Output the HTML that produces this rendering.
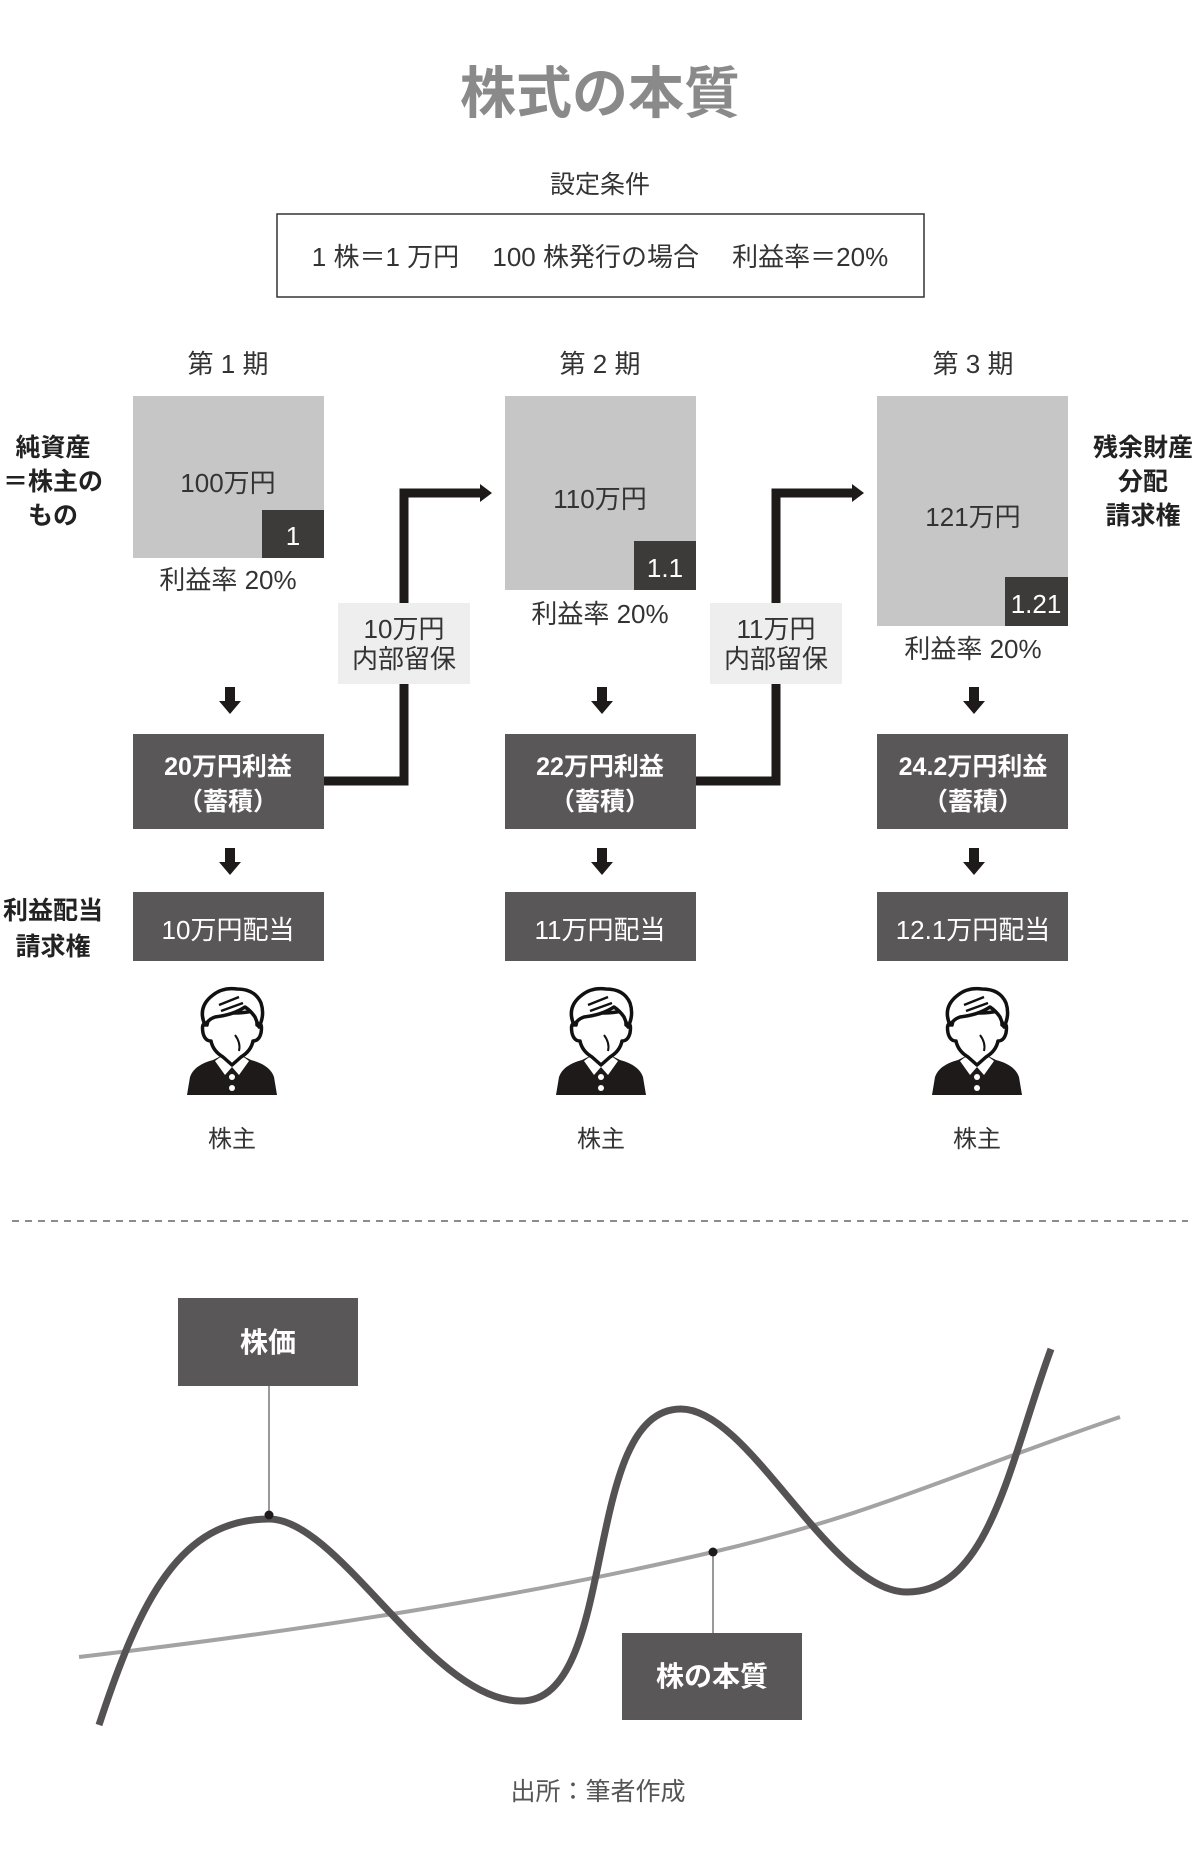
<!DOCTYPE html>
<html><head><meta charset="utf-8"><style>
html,body{margin:0;padding:0;background:#fff}
svg{display:block}
text{font-family:"Liberation Sans","Noto Sans CJK JP",sans-serif}
</style></head><body>
<svg width="1200" height="1876" viewBox="0 0 1200 1876" xmlns="http://www.w3.org/2000/svg">
<defs>
<g id="person">
  <path d="M2,110 L5,92 Q9,80 28,75 L38,70 L47,82 L56,70 L66,75 Q85,80 89,92 L92,110 Z" fill="#1e1a1a"/>
  <path d="M30,76 L38,70 L47,82 L40,90 Z" fill="#fff"/>
  <path d="M64,76 L56,70 L47,82 L54,90 Z" fill="#fff"/>
  <circle cx="47" cy="92" r="3" fill="#fff"/><circle cx="47" cy="103" r="3" fill="#fff"/>
  <path d="M22,40 Q16,36 18,48 Q20,56 26,56 Q28,66 38,72 L47,80 L56,72 Q66,66 68,56 Q74,56 76,48 Q78,36 72,40 Q72,30 68,26 Q50,30 30,26 Q24,30 22,40 Z" fill="#fff" stroke="#111" stroke-width="3.5" stroke-linejoin="round"/>
  <path d="M20,40 Q12,22 28,10 Q38,2 52,4 Q70,4 76,18 Q80,30 74,42 L70,32 Q66,26 60,22 Q48,30 30,32 Q24,34 20,40 Z" fill="#fff" stroke="#111" stroke-width="3.5" stroke-linejoin="round"/>
  <path d="M34,20 L54,12 M36,26 L58,18" stroke="#111" stroke-width="2.5"/>
  <path d="M50,50 Q56,58 54,66" stroke="#111" stroke-width="2" fill="none"/>
</g>
</defs>

<text x="600" y="113" text-anchor="middle" font-size="56" font-weight="bold" fill="#8a8a8a">株式の本質</text>
<text x="600" y="193" text-anchor="middle" font-size="25" fill="#333">設定条件</text>
<rect x="277" y="214" width="647" height="83" fill="#fff" stroke="#333" stroke-width="1.5"/>
<text x="600" y="266" text-anchor="middle" font-size="26" fill="#333" xml:space="preserve">1 株＝1 万円　 100 株発行の場合　 利益率＝20%</text>

<g font-size="26" fill="#333" text-anchor="middle">
<text x="228" y="373">第 1 期</text>
<text x="600" y="373">第 2 期</text>
<text x="973" y="373">第 3 期</text>
</g>

<rect x="133" y="396" width="191" height="162" fill="#c6c6c6"/>
<rect x="262" y="510" width="62" height="48" fill="#3d3a3a"/>
<rect x="505" y="396" width="191" height="194" fill="#c6c6c6"/>
<rect x="634" y="541" width="62" height="49" fill="#3d3a3a"/>
<rect x="877" y="396" width="191" height="230" fill="#c6c6c6"/>
<rect x="1005" y="577" width="63" height="49" fill="#3d3a3a"/>
<g font-size="26" fill="#333" text-anchor="middle">
<text x="228" y="492">100万円</text>
<text x="600" y="508">110万円</text>
<text x="973" y="526">121万円</text>
<text x="228" y="589">利益率 20%</text>
<text x="600" y="623">利益率 20%</text>
<text x="973" y="658">利益率 20%</text>
</g>
<g font-size="26" fill="#fff" text-anchor="middle">
<text x="293" y="545">1</text>
<text x="665" y="577">1.1</text>
<text x="1036" y="613">1.21</text>
</g>

<g fill="none" stroke="#1e1a1a" stroke-width="9">
<polyline points="324,781 404,781 404,493 482,493"/>
<polyline points="696,781 776,781 776,493 854,493"/>
</g>
<polygon points="480,484 492,493 480,502" fill="#1e1a1a"/>
<polygon points="852,484 864,493 852,502" fill="#1e1a1a"/>
<rect x="338" y="603" width="132" height="81" fill="#eeeeee"/>
<rect x="710" y="603" width="132" height="81" fill="#eeeeee"/>
<g font-size="26" fill="#333" text-anchor="middle">
<text x="404" y="638">10万円</text><text x="404" y="668">内部留保</text>
<text x="776" y="638">11万円</text><text x="776" y="668">内部留保</text>
</g>

<g fill="#1e1a1a">
<g transform="translate(230,687)"><rect x="-5" y="0" width="10" height="16"/><polygon points="-11,14 11,14 0,27"/></g>
<g transform="translate(602,687)"><rect x="-5" y="0" width="10" height="16"/><polygon points="-11,14 11,14 0,27"/></g>
<g transform="translate(974,687)"><rect x="-5" y="0" width="10" height="16"/><polygon points="-11,14 11,14 0,27"/></g>
<g transform="translate(230,848)"><rect x="-5" y="0" width="10" height="16"/><polygon points="-11,14 11,14 0,27"/></g>
<g transform="translate(602,848)"><rect x="-5" y="0" width="10" height="16"/><polygon points="-11,14 11,14 0,27"/></g>
<g transform="translate(974,848)"><rect x="-5" y="0" width="10" height="16"/><polygon points="-11,14 11,14 0,27"/></g>
</g>

<g fill="#595757">
<rect x="133" y="734" width="191" height="95"/>
<rect x="505" y="734" width="191" height="95"/>
<rect x="877" y="734" width="191" height="95"/>
<rect x="133" y="892" width="191" height="69"/>
<rect x="505" y="892" width="191" height="69"/>
<rect x="877" y="892" width="191" height="69"/>
</g>
<g font-size="25" fill="#fff" text-anchor="middle" font-weight="bold">
<text x="228" y="775">20万円利益</text><text x="228" y="810">（蓄積）</text>
<text x="600" y="775">22万円利益</text><text x="600" y="810">（蓄積）</text>
<text x="973" y="775">24.2万円利益</text><text x="973" y="810">（蓄積）</text>
</g>
<g font-size="26" fill="#fff" text-anchor="middle">
<text x="228" y="939">10万円配当</text>
<text x="600" y="939">11万円配当</text>
<text x="973" y="939">12.1万円配当</text>
</g>

<g font-size="25" fill="#222" text-anchor="middle" font-weight="bold">
<text x="53" y="456">純資産</text><text x="53" y="490">＝株主の</text><text x="53" y="524">もの</text>
<text x="53" y="919">利益配当</text><text x="53" y="955">請求権</text>
<text x="1143" y="456">残余財産</text><text x="1143" y="490">分配</text><text x="1143" y="524">請求権</text>
</g>

<use href="#person" x="185" y="985"/>
<use href="#person" x="554" y="985"/>
<use href="#person" x="930" y="985"/>
<g font-size="24" fill="#333" text-anchor="middle">
<text x="232" y="1147">株主</text>
<text x="601" y="1147">株主</text>
<text x="977" y="1147">株主</text>
</g>

<line x1="12" y1="1221" x2="1188" y2="1221" stroke="#666" stroke-width="1.5" stroke-dasharray="7,6"/>

<path d="M79,1657 C350,1625 550,1590 713,1552 S950,1475 1120,1417" fill="none" stroke="#a3a3a3" stroke-width="4"/>
<path d="M99,1725 C140,1600 180,1519 269,1519 C340,1519 430,1701 521,1701 C620,1701 580,1409 681,1409 C750,1409 830,1592 907,1592 C990,1592 1010,1460 1051,1349" fill="none" stroke="#555253" stroke-width="7"/>
<line x1="269" y1="1386" x2="269" y2="1514" stroke="#333" stroke-width="1"/>
<circle cx="269" cy="1515" r="4.5" fill="#1e1a1a"/>
<line x1="713" y1="1552" x2="713" y2="1633" stroke="#333" stroke-width="1"/>
<circle cx="713" cy="1552" r="4.5" fill="#1e1a1a"/>
<rect x="178" y="1298" width="180" height="88" fill="#595757"/>
<rect x="622" y="1633" width="180" height="87" fill="#595757"/>
<g font-size="28" fill="#fff" text-anchor="middle" font-weight="bold">
<text x="268" y="1352">株価</text>
<text x="712" y="1686">株の本質</text>
</g>
<text x="598" y="1800" text-anchor="middle" font-size="25" fill="#555">出所：筆者作成</text>
</svg>
</body></html>
